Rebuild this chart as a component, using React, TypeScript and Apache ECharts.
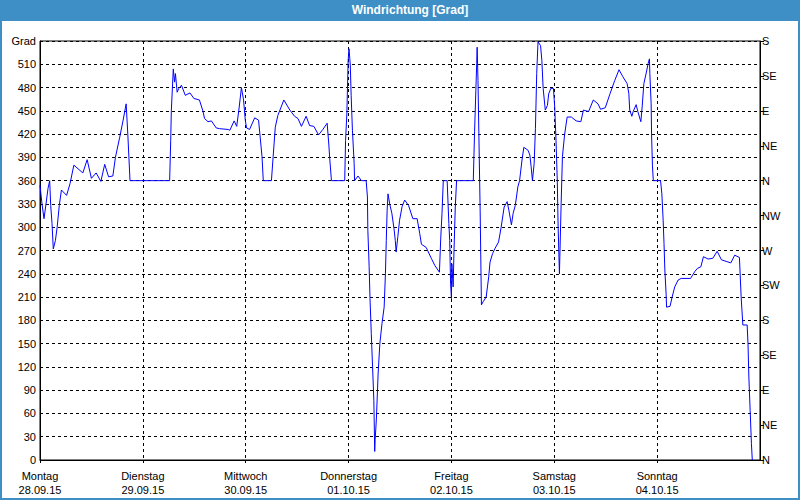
import React, { useEffect, useRef } from "react";
import * as echarts from "echarts";

const TITLE = "Windrichtung [Grad]";
const dayNames = ["Montag", "Dienstag", "Mittwoch", "Donnerstag", "Freitag", "Samstag", "Sonntag"];
const dayDates = ["28.09.15", "29.09.15", "30.09.15", "01.10.15", "02.10.15", "03.10.15", "04.10.15"];
const compassLabels = ["N", "NE", "E", "SE", "S", "SW", "W", "NW", "N", "NE", "E", "SE", "S"];

// hours since Monday 28.09.15 00:00
const hours = [
  0, 0.47, 0.93, 1.4, 1.87, 2.26, 2.5, 2.8, 3.1, 3.6, 4.0, 4.5, 5.0, 6.2, 7.0, 7.9, 10.0, 11.0, 12.0, 13.1, 14.2, 15.1, 16.0, 17.0, 17.6, 18.6, 19.4, 20.1, 20.5, 21.0,
  30.25, 30.5, 30.64, 31.1, 31.4, 31.6, 32.0, 32.4, 33.0, 33.9, 35.0, 35.9, 37.2, 38.0, 38.4, 39.2, 40.0, 41.1, 41.9, 43.9, 44.3, 45.3, 45.9, 46.4, 47.0, 47.5, 47.9, 48.2, 48.9, 50.1, 51.0, 51.8, 52.1, 54.0, 54.4, 54.9, 55.5,
  56.9, 58.3, 59.4, 60.2, 61.0, 62.1, 62.9, 63.9, 65.0, 66.0, 67.0, 67.4, 67.6, 68.0, 71.1, 71.3, 71.6, 71.9, 72.1, 72.4, 72.6, 72.9, 73.3, 73.4, 74.2, 75.0, 76.1, 76.4, 76.5, 76.8, 77.0, 77.3, 77.6, 77.9, 78.1, 78.2, 78.5, 78.9, 79.3, 79.8, 80.3, 80.6, 80.8, 81.0, 81.2, 81.6, 82.1, 82.6, 82.9, 83.1, 83.5,
  83.9, 84.5, 85.1, 86.0, 87.0, 88.0, 88.6, 89.0, 90.1, 91.3, 92.1, 93.2, 93.5, 93.8, 94.1, 95.0, 95.4, 95.6, 95.8, 96.0, 96.1, 96.4, 96.6, 96.9, 97.2, 101.1, 101.4, 101.7, 101.9, 102.0, 102.2, 102.4, 102.7, 103.0, 103.4, 104.1, 104.4, 104.7, 105.0, 105.6, 106.2, 107.0, 107.6, 108.3, 109.0, 109.4, 110.0, 110.4, 110.9, 111.5,
  111.9, 112.5, 112.9, 113.9, 114.3, 114.6, 114.9, 115.3, 115.6, 115.9, 116.2, 116.8, 117.1, 117.4, 117.9, 118.4, 118.7, 119.2, 119.8, 120.1, 120.4, 120.7, 120.9, 121.2, 121.3, 121.6, 121.9, 122.4, 123.0, 124.0, 125.1, 126.2, 126.8, 128.0, 129.1, 130.2, 130.8, 131.9, 133.0, 134.1, 135.1, 136.0, 137.0, 137.4, 137.6, 138.1, 138.4, 139.1, 139.5,
  140.2, 140.5, 140.9, 141.5, 141.9, 142.2, 142.3, 142.6, 142.7, 142.9, 143.1, 144.8, 145.1, 145.4, 145.6, 145.8, 146.1, 146.2, 147.0, 147.5, 148.1, 148.9, 149.6, 151.8, 152.8, 153.4, 154.2, 154.8, 155.9, 157.0, 158.0, 159.0, 160.1, 161.2, 162.1, 163.2, 163.6, 164.0, 165.0, 165.2, 165.4, 165.7, 166.0, 166.2,
];

const degrees = [
  354, 330, 311, 330, 350, 360, 328, 305, 272, 283, 300, 328, 348, 341, 356, 380, 370, 387, 363, 370, 359, 381, 365, 366, 390, 416, 438, 459, 419, 360,
  360, 412, 450, 504, 487, 498, 474, 479, 483, 470, 473, 466, 464, 450, 440, 436, 437, 428, 427, 426, 425, 437, 430, 451, 480, 464, 438, 428, 426, 441, 438, 391, 360, 360, 391, 429, 444,
  464, 451, 443, 440, 430, 443, 431, 430, 419, 426, 434, 406, 389, 360, 360, 412, 446, 515, 530, 509, 470, 425, 382, 360, 366, 360, 360, 339, 296, 249, 208, 163, 120, 77, 11, 26, 54, 112, 150, 176, 197, 240, 283, 322, 343, 330, 318, 298, 283, 268, 288,
  309, 327, 335, 328, 311, 311, 292, 278, 274, 260, 251, 242, 285, 318, 360, 360, 305, 283, 228, 208, 253, 223, 270, 326, 360, 360, 423, 476, 511, 532, 489, 421, 322, 200, 204, 210, 223, 236, 255, 266, 273, 281, 300, 326, 333, 322, 303, 318, 328, 352,
  360, 388, 403, 399, 393, 378, 360, 382, 427, 498, 539, 534, 515, 479, 451, 457, 472, 479, 479, 455, 412, 360, 300, 240, 262, 331, 391, 419, 442, 442, 437, 436, 451, 449, 464, 459, 452, 454, 472, 489, 503, 494, 485, 472, 451, 443, 449, 458, 449,
  436, 455, 485, 500, 511, 517, 498, 459, 419, 380, 360, 360, 343, 309, 279, 245, 213, 197, 198, 210, 223, 232, 234, 234, 243, 247, 249, 262, 259, 260, 269, 258, 256, 254, 264, 261, 210, 174, 174, 150, 107, 64, 21, 0,
];

const FRAME_BLUE = "#3d8fc5";
const FONT = "Liberation Sans";

export default function App() {
  const ref = useRef<HTMLDivElement>(null);
  useEffect(() => {
    if (!ref.current) return;
    const chart = echarts.init(ref.current, undefined, { renderer: "svg" });
    const data = hours.map((h, i) => [h, degrees[i]]);
    const dashed = { color: "#000", width: 1, type: [3, 3] as any };
    chart.setOption({
      animation: false,
      backgroundColor: "#fff",
      graphic: [
        { type: "rect", shape: { x: 0, y: 0, width: 800, height: 21 }, style: { fill: FRAME_BLUE }, silent: true },
        { type: "rect", shape: { x: 1, y: 1, width: 798, height: 498 }, style: { fill: "none", stroke: FRAME_BLUE, lineWidth: 2 }, silent: true },
        {
          type: "text", x: 410, y: 10,
          style: { text: TITLE, fill: "#fff", font: `bold 12px "${FONT}"`, align: "center", verticalAlign: "middle" },
          silent: true,
        },
      ],
      grid: { left: 40, right: 40, top: 41, bottom: 40, show: true, borderColor: "#000", borderWidth: 1, backgroundColor: "transparent" },
      xAxis: {
        type: "value", min: 0, max: 168, interval: 24,
        axisLine: { show: true, lineStyle: { color: "#000", width: 1 } },
        axisTick: { show: true, length: 3, lineStyle: { color: "#000" } },
        splitLine: { show: true, lineStyle: dashed },
        axisLabel: {
          margin: 9, color: "#000", fontFamily: FONT, fontSize: 11, lineHeight: 14, showMaxLabel: false,
          formatter: (v: number) => {
            const i = Math.round(v / 24);
            return i < dayNames.length ? `${dayNames[i]}\n${dayDates[i]}` : "";
          },
        },
      },
      yAxis: [
        {
          type: "value", min: 0, max: 540, interval: 30, position: "left",
          axisLine: { show: true, lineStyle: { color: "#000", width: 1 } },
          axisTick: { show: false },
          splitLine: { show: true, lineStyle: dashed },
          axisLabel: {
            margin: 4, color: "#000", fontFamily: FONT, fontSize: 11,
            formatter: (v: number) => (v === 540 ? "Grad" : String(v)),
          },
        },
        {
          type: "value", min: 0, max: 540, interval: 45, position: "right",
          axisLine: { show: true, lineStyle: { color: "#000", width: 1 } },
          axisTick: { show: true, length: 4, lineStyle: { color: "#000" } },
          splitLine: { show: false },
          axisLabel: {
            margin: 2, color: "#000", fontFamily: FONT, fontSize: 11,
            formatter: (v: number) => compassLabels[Math.round(v / 45)] ?? "",
          },
        },
      ],
      series: [
        {
          type: "line", data, yAxisIndex: 0, showSymbol: false, symbol: "none",
          lineStyle: { color: "#0000ff", width: 1 }, silent: true,
        },
      ],
    });
    return () => chart.dispose();
  }, []);
  return <div ref={ref} style={{ position: "absolute", left: 0, top: 0, width: 800, height: 500 }} />;
}
